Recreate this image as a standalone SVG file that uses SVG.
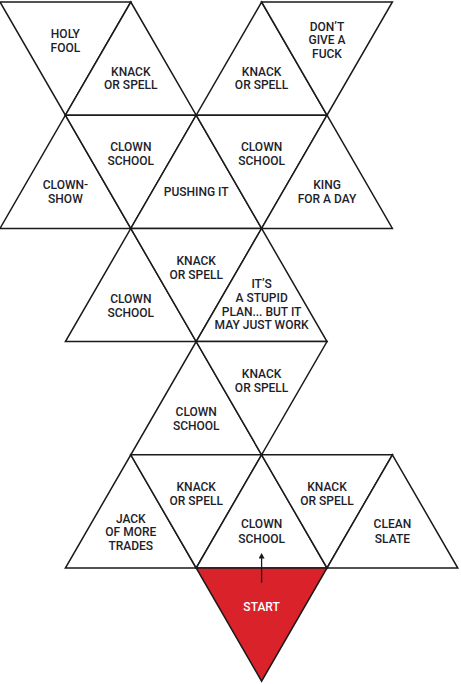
<svg xmlns="http://www.w3.org/2000/svg" width="461" height="684" viewBox="0 0 461 684">
<style>
.t{fill:#ffffff;stroke:#1a1a1a;stroke-width:1.5;stroke-linejoin:miter}
.s{fill:#d9222a;stroke:#1a1a1a;stroke-width:1.5}
text{font-family:Roboto,"Liberation Sans",sans-serif;font-weight:500;font-size:12px;fill:#1d1d2b;text-anchor:middle}
.w{fill:#ffffff}
</style>
<defs>
<marker id="ah" markerWidth="6" markerHeight="6" refX="3" refY="3" orient="auto" markerUnits="userSpaceOnUse">
<path d="M0,5.5 L3,0 L6,5.5 Z" fill="#1a1a1a" transform="rotate(90 3 3)"/>
</marker>
</defs>
<rect width="461" height="684" fill="#ffffff"/>
<g id="holy-fool"><polygon class="t" points="0,2 130.8,2 65.4,115.2"/><text x="65.4" y="37.9">HOLY</text><text x="65.4" y="51.5">FOOL</text></g>
<g id="knack-1"><polygon class="t" points="130.8,2 196.2,115.2 65.4,115.2"/><text x="130.8" y="75.7">KNACK</text><text x="130.8" y="89.3">OR SPELL</text></g>
<g id="knack-2"><polygon class="t" points="261.6,2 327,115.2 196.2,115.2"/><text x="261.6" y="75.7">KNACK</text><text x="261.6" y="89.3">OR SPELL</text></g>
<g id="dont-give"><polygon class="t" points="261.6,2 392.4,2 327,115.2"/><text x="327" y="30.7">DON’T</text><text x="327" y="44.4">GIVE A</text><text x="327" y="58">FUCK</text></g>
<g id="clown-show"><polygon class="t" points="65.4,115.2 130.8,228.4 0,228.4"/><text x="65.4" y="189.2">CLOWN-</text><text x="65.4" y="202.9">SHOW</text></g>
<g id="clown-school-1"><polygon class="t" points="65.4,115.2 196.2,115.2 130.8,228.4"/><text x="130.8" y="151">CLOWN</text><text x="130.8" y="164.8">SCHOOL</text></g>
<g id="pushing-it"><polygon class="t" points="196.2,115.2 261.6,228.4 130.8,228.4"/><text x="196.2" y="196">PUSHING IT</text></g>
<g id="clown-school-2"><polygon class="t" points="196.2,115.2 327,115.2 261.6,228.4"/><text x="261.6" y="151">CLOWN</text><text x="261.6" y="164.8">SCHOOL</text></g>
<g id="king"><polygon class="t" points="327,115.2 392.4,228.4 261.6,228.4"/><text x="327" y="189.2">KING</text><text x="327" y="202.9">FOR A DAY</text></g>
<g id="clown-school-3"><polygon class="t" points="130.8,228.4 196.2,341.6 65.4,341.6"/><text x="130.8" y="303.3">CLOWN</text><text x="130.8" y="316.9">SCHOOL</text></g>
<g id="knack-3"><polygon class="t" points="130.8,228.4 261.6,228.4 196.2,341.6"/><text x="196.2" y="264.9">KNACK</text><text x="196.2" y="278.5">OR SPELL</text></g>
<g id="stupid-plan"><polygon class="t" points="261.6,228.4 327,341.6 196.2,341.6"/><text x="261.6" y="288.3">IT’S</text><text x="261.6" y="302">A STUPID</text><text x="261.6" y="315.7">PLAN... BUT IT</text><text x="261.6" y="329.4">MAY JUST WORK</text></g>
<g id="clown-school-4"><polygon class="t" points="196.2,341.6 261.6,454.8 130.8,454.8"/><text x="196.2" y="415.9">CLOWN</text><text x="196.2" y="429.5">SCHOOL</text></g>
<g id="knack-4"><polygon class="t" points="196.2,341.6 327,341.6 261.6,454.8"/><text x="261.6" y="378.2">KNACK</text><text x="261.6" y="391.8">OR SPELL</text></g>
<g id="jack"><polygon class="t" points="130.8,454.8 196.2,568 65.4,568"/><text x="130.8" y="522.8">JACK</text><text x="130.8" y="536.4">OF MORE</text><text x="130.8" y="550">TRADES</text></g>
<g id="knack-5"><polygon class="t" points="130.8,454.8 261.6,454.8 196.2,568"/><text x="196.2" y="491">KNACK</text><text x="196.2" y="505.3">OR SPELL</text></g>
<g id="clown-school-5"><polygon class="t" points="261.6,454.8 327,568 196.2,568"/><text x="261.6" y="528.3">CLOWN</text><text x="261.6" y="542.7">SCHOOL</text></g>
<g id="knack-6"><polygon class="t" points="261.6,454.8 392.4,454.8 327,568"/><text x="327" y="491">KNACK</text><text x="327" y="505.3">OR SPELL</text></g>
<g id="clean-slate"><polygon class="t" points="392.4,454.8 457.8,568 327,568"/><text x="392.4" y="528.3">CLEAN</text><text x="392.4" y="542.7">SLATE</text></g>
<g id="start"><polygon class="s" points="196.2,568 327,568 261.6,681.2"/><text class="w" x="261.6" y="610.7">START</text></g>
<g id="connectors"><line x1="261.6" y1="582.7" x2="261.6" y2="556" stroke="#1a1a1a" stroke-width="1.3" marker-end="url(#ah)"/></g>
</svg>
